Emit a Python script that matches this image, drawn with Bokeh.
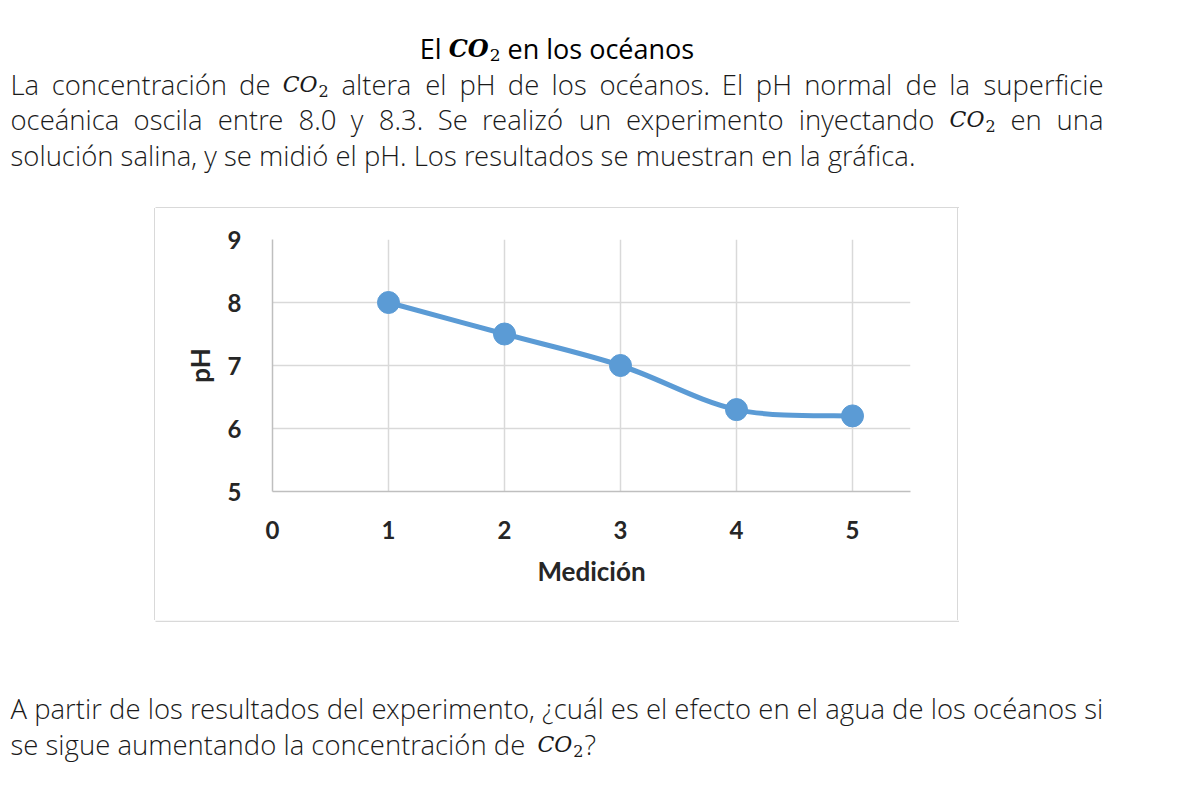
import glob
import subprocess
import numpy as np
from bokeh.plotting import figure
from bokeh.layouts import column, row
from bokeh.models import Range1d, Label, FixedTicker, Div
from bokeh.embed import file_html
from bokeh.resources import INLINE

# ---- data ----
medicion = [1, 2, 3, 4, 5]
ph = [8.0, 7.5, 7.0, 6.3, 6.2]
x_ticks = [0, 1, 2, 3, 4, 5]
y_ticks = [5, 6, 7, 8, 9]
x_label = "Medición"
y_label = "pH"

CO2 = None  # placeholder token for the chemical formula
co = "CO"
sub2 = "2"
title_tokens = ["El", CO2, "en los océanos"]
line1_tokens = ["La", "concentración", "de", CO2, "altera", "el", "pH", "de", "los",
                "océanos.", "El", "pH", "normal", "de", "la", "superficie"]
line2_tokens = ["oceánica", "oscila", "entre", "8.0", "y", "8.3.", "Se", "realizó", "un",
                "experimento", "inyectando", CO2, "en", "una"]
line3 = "solución salina, y se midió el pH. Los resultados se muestran en la gráfica."
q_l1 = "A partir de los resultados del experimento, ¿cuál es el efecto en el agua de los océanos si"
q_l2 = "se sigue aumentando la concentración de"
q_end = "?"

BLUE = "#5B9BD5"
GRID = "#d9d9d9"
BOX = "#d9d9d9"
TXT = "#1a1a1a"
AX_TXT = "#262626"
BODY_FONT = "'Open Sans Light', 'Open Sans'"
TITLE_FONT = "Open Sans"
FS = 27.5
TITLE_FS = 27
SERIF = "DejaVu Serif"
BODY_SCALE = 0.96  # rendered light face is a little narrower than the measured file

# page geometry (pixels)
PAGE_W, PAGE_H = 1170, 782
BOX_L, BOX_R, BOX_T, BOX_B = 155, 957, 208, 620
PLOT_L, PLOT_R, PLOT_T, PLOT_B = 272, 910, 239, 491
TEXT_L, TEXT_R = 10, 1103
TITLE_Y = 48
BODY_Y = [84, 119, 155]
Q_Y = [708, 744]


# ---- text measuring (for justified lines) ----
def find_font(pattern, globs):
    try:
        out = subprocess.run(["fc-match", "-f", "%{file}", pattern],
                             capture_output=True, text=True, timeout=5).stdout.strip()
        if out:
            return out
    except Exception:
        pass
    for g in globs:
        hits = glob.glob(g, recursive=True)
        if hits:
            return hits[0]
    return None


_fonts = {}


def measure(s, size, path, fallback=0.53):
    if path:
        try:
            if path not in _fonts:
                from PIL import ImageFont
                _fonts[path] = ImageFont.truetype(path, 200)
            return _fonts[path].getlength(s) * size / 200.0
        except Exception:
            pass
    return len(s) * fallback * size


BODY_PATH = find_font("Open Sans:light", ["/usr/share/fonts/**/OpenSans-Light*.ttf",
                                          "/usr/share/fonts/**/OpenSans*.ttf"])
TITLE_PATH = find_font("Open Sans", ["/usr/share/fonts/**/OpenSans-Regular*.ttf",
                                     "/usr/share/fonts/**/OpenSans*.ttf"])
SERIF_IT_PATH = find_font("DejaVu Serif:italic", ["/usr/share/fonts/**/DejaVuSerif-Italic.ttf"])
SERIF_BI_PATH = find_font("DejaVu Serif:bold:italic", ["/usr/share/fonts/**/DejaVuSerif-BoldItalic.ttf"])
SERIF_PATH = find_font("DejaVu Serif", ["/usr/share/fonts/**/DejaVuSerif.ttf"])


def body_width(s):
    return measure(s, FS, BODY_PATH, 0.5) * BODY_SCALE


def blank_fig(w, h, x0, x1, y_top, y_bottom):
    f = figure(width=w, height=h, output_backend="svg", toolbar_location=None,
               x_range=Range1d(x0, x1), y_range=Range1d(y_bottom, y_top),
               x_axis_type=None, y_axis_type=None, min_border=0)
    f.grid.visible = False
    f.outline_line_color = None
    f.background_fill_color = "white"
    f.border_fill_color = "white"
    return f


top_fig = blank_fig(PAGE_W, BOX_T, 0, PAGE_W, 0, BOX_T)
bottom_fig = blank_fig(PAGE_W, PAGE_H - BOX_B, 0, PAGE_W, BOX_B, PAGE_H)

# chart box border: top/bottom edges in the text panels, sides as bordered spacers
top_fig.segment(x0=[BOX_L], y0=[BOX_T - 0.8], x1=[BOX_R + 1.5], y1=[BOX_T - 0.8],
                line_color=BOX, line_width=1.5)
bottom_fig.segment(x0=[BOX_L], y0=[BOX_B + 0.8], x1=[BOX_R + 1.5], y1=[BOX_B + 0.8],
                   line_color=BOX, line_width=1.5)
left_side = Div(text="", width=BOX_L, height=BOX_B - BOX_T, margin=0,
                styles={"border-right": f"1.5px solid {BOX}", "box-sizing": "border-box"})
right_side = Div(text="", width=PAGE_W - BOX_R, height=BOX_B - BOX_T, margin=0,
                 styles={"border-left": f"1.5px solid {BOX}", "box-sizing": "border-box"})

# ---- chart ----
p = figure(width=BOX_R - BOX_L, height=BOX_B - BOX_T, output_backend="svg",
           toolbar_location=None,
           x_range=Range1d(0, 5.5), y_range=Range1d(5, 9),
           min_border_left=PLOT_L - BOX_L, min_border_right=BOX_R - PLOT_R,
           min_border_top=PLOT_T - BOX_T, min_border_bottom=BOX_B - PLOT_B)
p.outline_line_color = None
p.background_fill_color = "white"
p.border_fill_color = "white"

for ax in (p.xaxis[0], p.yaxis[0]):
    ax.axis_line_color = "#bfbfbf"
    ax.axis_line_width = 1.5
    ax.major_tick_line_color = None
    ax.minor_tick_line_color = None
    ax.major_label_text_font = "Lato"
    ax.major_label_text_font_style = "bold"
    ax.major_label_text_font_size = "24px"
    ax.major_label_text_color = AX_TXT
    ax.axis_label_text_font = "Lato"
    ax.axis_label_text_font_style = "bold"
    ax.axis_label_text_font_size = "26px"
    ax.axis_label_text_color = AX_TXT

p.xaxis.ticker = FixedTicker(ticks=x_ticks)
p.yaxis.ticker = FixedTicker(ticks=y_ticks)
p.xaxis.axis_label = x_label
p.yaxis.axis_label = y_label
p.xaxis.major_label_standoff = 23
p.yaxis.major_label_standoff = 25
p.xaxis.axis_label_standoff = 13
p.yaxis.axis_label_standoff = 9

p.xgrid.ticker = FixedTicker(ticks=x_ticks)
p.ygrid.ticker = FixedTicker(ticks=y_ticks)
for g in (p.xgrid[0], p.ygrid[0]):
    g.grid_line_color = GRID
    g.grid_line_width = 1.5

# smoothed line (Catmull-Rom style Bezier through the data points)
xs = np.array(medicion, float)
ys = np.array(ph, float)
n = len(xs)
x0, y0, x1, y1, cx0, cy0, cx1, cy1 = ([] for _ in range(8))
for i in range(n - 1):
    im = max(i - 1, 0)
    ip = min(i + 2, n - 1)
    x0.append(xs[i]); y0.append(ys[i])
    x1.append(xs[i + 1]); y1.append(ys[i + 1])
    cx0.append(xs[i] + (xs[i + 1] - xs[im]) / 6)
    cy0.append(ys[i] + (ys[i + 1] - ys[im]) / 6)
    cx1.append(xs[i + 1] - (xs[ip] - xs[i]) / 6)
    cy1.append(ys[i + 1] - (ys[ip] - ys[i]) / 6)
p.bezier(x0=x0, y0=y0, x1=x1, y1=y1, cx0=cx0, cy0=cy0, cx1=cx1, cy1=cy1,
         line_color=BLUE, line_width=5)
p.scatter(medicion, ph, size=22, color=BLUE)


# ---- page text ----
def lab(f, x, y, text, font=BODY_FONT, size=FS, style="normal", align="left", color=TXT):
    f.add_layout(Label(x=x, y=y, text=text,
                       text_font=font, text_font_size=f"{size}px",
                       text_font_style=style, text_align=align,
                       text_baseline="alphabetic", text_color=color))


def co2_width(size, subsize, bold=False):
    wco = measure(co, size, SERIF_BI_PATH if bold else SERIF_IT_PATH, 0.75)
    return wco, wco + 1 + measure(sub2, subsize, SERIF_PATH, 0.6)


def co2(f, x, y, size=22, subsize=16, bold=False, color=TXT):
    wco, _ = co2_width(size, subsize, bold)
    lab(f, x, y, co, font=SERIF, size=size,
        style="bold italic" if bold else "italic", color=color)
    lab(f, x + wco + 1, y + 6, sub2, font=SERIF, size=subsize, color=color)


def tok_width(t):
    if t is CO2:
        return co2_width(22, 16)[1]
    return body_width(t)


def justify(f, tokens, x_left, x_right, y):
    widths = [tok_width(t) for t in tokens]
    gap = (x_right - x_left - sum(widths)) / (len(tokens) - 1)
    x = x_left
    for i, t in enumerate(tokens):
        if t is CO2:
            co2(f, x, y)
        elif i == len(tokens) - 1:
            lab(f, x_right, y, t, align="right")
        else:
            lab(f, x, y, t)
        x += widths[i] + gap


# title (centred over the text column)
t_co_w = co2_width(24, 17, bold=True)[1]
t_space = measure(" ", TITLE_FS, TITLE_PATH, 0.26)
t_w0 = measure(title_tokens[0], TITLE_FS, TITLE_PATH)
t_w2 = measure(title_tokens[2], TITLE_FS, TITLE_PATH)
t_total = t_w0 + t_space + t_co_w + t_space + t_w2
tx = (TEXT_L + TEXT_R) / 2 - t_total / 2
lab(top_fig, tx, TITLE_Y, title_tokens[0], font=TITLE_FONT, size=TITLE_FS, color="black")
co2(top_fig, tx + t_w0 + t_space, TITLE_Y, size=24, subsize=17, bold=True, color="black")
lab(top_fig, tx + t_w0 + 2 * t_space + t_co_w, TITLE_Y, title_tokens[2],
    font=TITLE_FONT, size=TITLE_FS, color="black")

# paragraph
justify(top_fig, line1_tokens, TEXT_L, TEXT_R, BODY_Y[0])
justify(top_fig, line2_tokens, TEXT_L, TEXT_R, BODY_Y[1])
lab(top_fig, TEXT_L, BODY_Y[2], line3)

# question
lab(bottom_fig, TEXT_L, Q_Y[0], q_l1)
lab(bottom_fig, TEXT_L, Q_Y[1], q_l2)
qx = TEXT_L + body_width(q_l2) + 0.55 * FS
co2(bottom_fig, qx, Q_Y[1])
lab(bottom_fig, qx + co2_width(22, 16)[1] + 1, Q_Y[1], q_end)

layout = column(top_fig, row(left_side, p, right_side), bottom_fig)
open("out.html", "w").write(file_html(layout, INLINE))
